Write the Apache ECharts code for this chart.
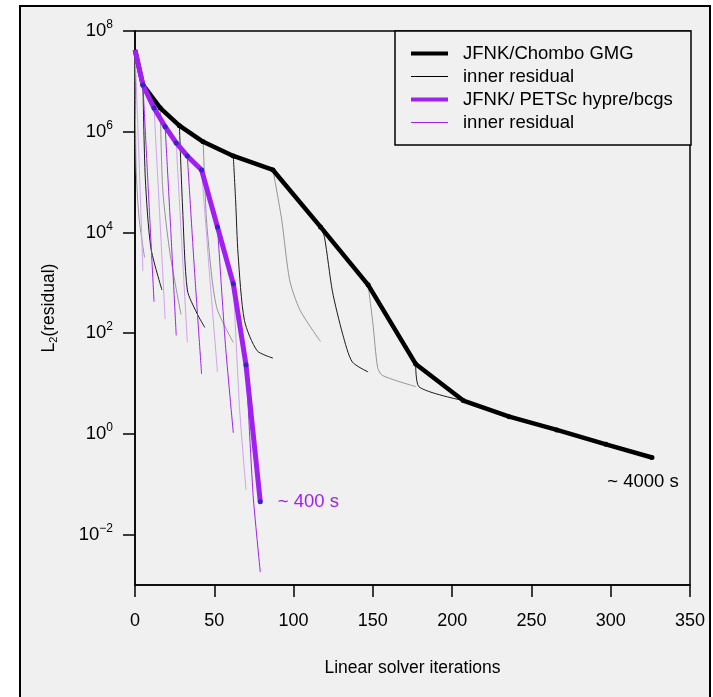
<!DOCTYPE html>
<html><head><meta charset="utf-8">
<script src="https://cdn.jsdelivr.net/npm/echarts@6/dist/echarts.min.js"></script>
<style>html,body{margin:0;padding:0;background:#fff;} #c{width:713px;height:697px;}</style>
</head><body><div id="c"></div>
<script>
// ---- data ----
const gmgIter = [0, 5, 16, 28, 43, 62, 87, 117, 147, 177, 207, 236, 266, 297, 326];
const gmgResidual = [4.2e7, 8.5e6, 2.95e6, 1.32e6, 6.3e5, 3.3e5, 1.74e5, 1.29e4, 912, 24.5, 4.6, 2.2, 1.2, 0.62, 0.34];
const petscIter = [0, 5, 12, 19, 26, 33, 42, 52, 62, 70, 79];
const petscResidual = [4.2e7, 8.5e6, 2.95e6, 1.26e6, 6.0e5, 3.3e5, 1.74e5, 1.29e4, 955, 23.4, 0.045];
const gmgInner = [
  [[0, 4.2e7], [0.7, 2e5], [2.5, 2e4], [6, 3.2e3]],
  [[5, 8.5e6], [6.5, 1.2e5], [10, 5e3], [17, 720]],
  [[16, 2.95e6], [17.5, 7e4], [22, 4e3], [29, 235]],
  [[28, 1.32e6], [30, 3.2e4], [33, 720], [39, 250], [44, 130]],
  [[43, 6.3e5], [45, 2e4], [48.5, 1.26e3], [52, 290], [62, 65]],
  [[62, 3.3e5], [63.5, 4e4], [65, 3.7e3], [69, 180], [77, 45], [87, 32]],
  [[87, 1.74e5], [92.5, 1.8e4], [97.5, 1.15e3], [104, 290], [117, 68]],
  [[117, 1.29e4], [119.5, 8e3], [124.5, 680], [131, 95], [137, 27], [147, 17]],
  [[147, 912], [150, 160], [153, 21], [156, 14.5], [177, 8.7]],
  [[177, 24.5], [179, 8.7], [207, 4.6]]
];
const petscInner = [
  [[0, 4.2e7], [2.5, 3e5], [5, 1.7e3]],
  [[5, 8.5e6], [8.5, 6e4], [12, 420]],
  [[12, 2.95e6], [15.5, 2.5e4], [19, 190]],
  [[19, 1.26e6], [22.5, 1.2e4], [26, 90]],
  [[26, 6.0e5], [29.5, 6e3], [33, 65]],
  [[33, 3.3e5], [37.5, 1.8e3], [42, 15.5]],
  [[42, 1.74e5], [47, 1.5e3], [52, 17]],
  [[52, 1.29e4], [57, 60], [62, 1.05]],
  [[62, 955], [66, 3], [70, 0.078]],
  [[70, 23.4], [74.5, 0.06], [79, 1.8e-3]]
];
const yTickValues = [1e-2, 1, 1e2, 1e4, 1e6, 1e8];
const gmgName = 'JFNK/Chombo GMG';
const petscName = 'JFNK/ PETSc hypre/bcgs';
const gmgInnerName = 'inner residual (GMG)';
const petscInnerName = 'inner residual (PETSc)';
const gmgNote = '~ 4000 s';
const petscNote = '~ 400 s';

// ---- styles ----
const FONT = 'Liberation Sans, Arial, Helvetica, sans-serif';
const PURPLE = '#a020f0';
const PURPLE_LIGHT = '#cfa2ef';

const series = [];
gmgInner.forEach((curve, i) => {
  series.push({
    name: gmgInnerName, type: 'line', data: curve, symbol: 'none', smooth: 0.25,
    lineStyle: { width: 1, color: (i % 2 === 0) ? '#959595' : '#1a1a1a' },
    itemStyle: { color: '#000' }, z: 1, silent: true
  });
});
petscInner.forEach((curve, i) => {
  series.push({
    name: petscInnerName, type: 'line', data: curve, symbol: 'none', smooth: 0.2,
    lineStyle: { width: 1, color: (i % 2 === 0) ? PURPLE_LIGHT : PURPLE },
    itemStyle: { color: PURPLE }, z: 1, silent: true
  });
});
const lastLabel = (text, color, pos, distance, offset) => ({
  show: true, formatter: text, position: pos, distance: distance, offset: offset,
  color: color, fontSize: 18.5, fontFamily: FONT
});
series.push({
  name: gmgName, type: 'line',
  data: gmgIter.map((x, i) => i === gmgIter.length - 1
    ? { value: [x, gmgResidual[i]], label: lastLabel(gmgNote, '#000', 'bottom', 12, [-9, 0]) }
    : [x, gmgResidual[i]]),
  symbol: 'circle', symbolSize: (v, p) => p.dataIndex === 0 ? 0 : 5,
  lineStyle: { width: 4.5, color: '#000' }, itemStyle: { color: '#000' }, z: 3
});
series.push({
  name: petscName, type: 'line',
  data: petscIter.map((x, i) => i === petscIter.length - 1
    ? { value: [x, petscResidual[i]], label: lastLabel(petscNote, PURPLE, 'right', 15, [0, 0]) }
    : [x, petscResidual[i]]),
  symbol: 'circle', symbolSize: (v, p) => p.dataIndex === 0 ? 0 : 5,
  lineStyle: { width: 5, color: PURPLE }, itemStyle: { color: '#3a22c8' }, z: 4
});

const option = {
  animation: false,
  textStyle: { fontFamily: FONT },
  grid: { left: 135, right: 23, top: 31, bottom: 112, show: true, borderColor: '#000', borderWidth: 1.5, backgroundColor: 'transparent' },
  graphic: [
    { type: 'rect', z: -10, shape: { x: 20, y: 6, width: 690, height: 720 }, style: { fill: '#f0f0f0', stroke: '#000', lineWidth: 2 } },
    { type: 'rect', z: 3, shape: { x: 395, y: 31, width: 296, height: 114 }, style: { fill: '#f0f0f0', stroke: '#000', lineWidth: 1.5 } }
  ],
  legend: {
    orient: 'vertical', left: 406, top: 39, z: 5,
    itemWidth: 37, itemHeight: 14, itemGap: 4, selectedMode: false,
    textStyle: { fontSize: 18.5, color: '#000', fontFamily: FONT, padding: [0, 0, 0, 10] },
    formatter: n => n.indexOf('inner') === 0 ? 'inner residual' : n,
    data: [
      { name: gmgName, icon: 'path://M0,0H40V4.5H0Z', itemStyle: { color: '#000' } },
      { name: gmgInnerName, icon: 'path://M0,0H40V1.2H0Z', itemStyle: { color: '#000' } },
      { name: petscName, icon: 'path://M0,0H40V4.5H0Z', itemStyle: { color: PURPLE } },
      { name: petscInnerName, icon: 'path://M0,0H40V1.2H0Z', itemStyle: { color: PURPLE } }
    ]
  },
  xAxis: {
    type: 'value', min: 0, max: 350, interval: 50,
    axisLine: { lineStyle: { color: '#000', width: 1.5 } },
    axisTick: { length: 12, lineStyle: { color: '#000', width: 1.5 } },
    axisLabel: { fontSize: 18, color: '#000', margin: 27, fontFamily: FONT },
    splitLine: { show: false },
    name: 'Linear solver iterations', nameLocation: 'middle', nameGap: 74,
    nameTextStyle: { fontSize: 17.5, color: '#000', fontFamily: FONT }
  },
  yAxis: {
    type: 'log', logBase: 10, min: 1e-3, max: 1e8,
    axisLine: { lineStyle: { color: '#000', width: 1.5 } },
    axisTick: { length: 12, lineStyle: { color: '#000', width: 1.5 }, customValues: yTickValues },
    minorTick: { show: false },
    splitLine: { show: false },
    axisLabel: {
      customValues: yTickValues, margin: 22, color: '#000', fontFamily: FONT,
      formatter: v => { const e = Math.round(Math.log10(v)); return '{b|10}{e|' + (e < 0 ? '\u2212' + (-e) : e) + '}'; },
      rich: {
        b: { fontSize: 18.5, color: '#000', fontFamily: FONT, lineHeight: 22 },
        e: { fontSize: 12, color: '#000', fontFamily: FONT, lineHeight: 22, padding: [0, 0, 12, 0] }
      }
    },
    name: '{a|L}{s|2}{a|(residual)}', nameLocation: 'middle', nameGap: 76,
    nameTextStyle: {
      rich: {
        a: { fontSize: 17.5, color: '#000', fontFamily: FONT, lineHeight: 20 },
        s: { fontSize: 11, color: '#000', fontFamily: FONT, lineHeight: 20, padding: [10, 0, 0, 0] }
      }
    }
  },
  series: series
};
const chart = echarts.init(document.getElementById('c'));
chart.setOption(option);
</script>
</body></html>
